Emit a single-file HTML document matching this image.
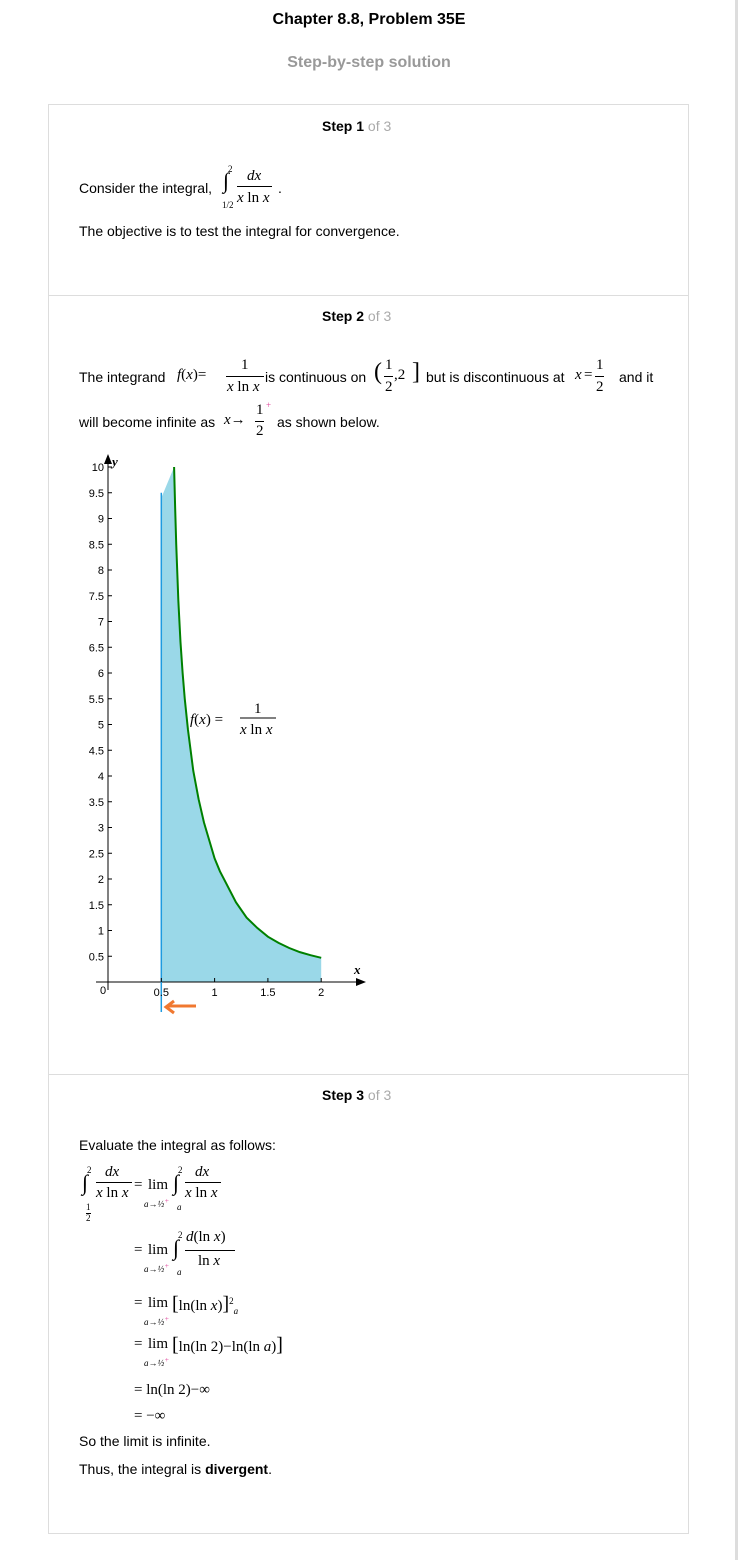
<!DOCTYPE html>
<html><head><meta charset="utf-8">
<style>
body{margin:0;width:738px;height:1560px;background:#fff;position:relative;font-family:"Liberation Sans",sans-serif;font-size:14px;color:#000;overflow:hidden}
.a{position:absolute;white-space:nowrap;line-height:1}
.m{font-family:"Liberation Serif",serif;font-size:15px}
.i{font-style:italic}
.s{font-size:9px;font-family:"Liberation Serif",serif}
.ln{position:absolute;height:1px;background:#000}
.big{font-size:22px;font-family:"Liberation Serif",serif}
</style></head><body>
<div class="a" style="left:0;width:738px;text-align:center;top:12px;font-weight:bold;font-size:16px">Chapter 8.8, Problem 35E</div>
<div class="a" style="left:0;width:738px;text-align:center;top:55px;font-weight:bold;font-size:16px;color:#999">Step-by-step solution</div>
<div style="position:absolute;left:48px;top:104px;width:639px;height:1428px;border:1px solid #ddd"></div>
<div style="position:absolute;left:49px;top:295px;width:639px;height:1px;background:#ddd"></div>
<div style="position:absolute;left:49px;top:1074px;width:639px;height:1px;background:#ddd"></div>
<div style="position:absolute;left:735px;top:0;width:3px;height:1560px;background:#ddd"></div>

<!-- step 1 -->
<div class="a" style="left:322px;top:119px"><b>Step 1</b> <span style="color:#aaa">of 3</span></div>
<div class="a" style="left:79px;top:181px">Consider the integral,</div>
<div class="a big" style="left:223px;top:170px">∫</div>
<div class="a s" style="left:228px;top:165px">2</div>
<div class="a s" style="left:222px;top:201px">1/2</div>
<div class="a m i" style="left:247px;top:169px">dx</div>
<div class="ln" style="left:237px;top:186px;width:35px"></div>
<div class="a m" style="left:237px;top:191px"><i>x</i> ln <i>x</i></div>
<div class="a" style="left:278px;top:181px">.</div>
<div class="a" style="left:79px;top:224px">The objective is to test the integral for convergence.</div>

<!-- step 2 -->
<div class="a" style="left:322px;top:309px"><b>Step 2</b> <span style="color:#aaa">of 3</span></div>
<div class="a" style="left:79px;top:370px">The integrand</div>
<div class="a m" style="left:177px;top:368px"><i>f</i>(<i>x</i>)=</div>
<div class="a m" style="left:241px;top:358px">1</div>
<div class="ln" style="left:226px;top:376px;width:38px"></div>
<div class="a m" style="left:227px;top:380px"><i>x</i> ln <i>x</i></div>
<div class="a" style="left:265px;top:370px">is continuous on</div>
<div class="a m" style="left:374px;top:360px;font-size:24px">(</div>
<div class="a m" style="left:385px;top:358px">1</div>
<div class="ln" style="left:384px;top:376px;width:9px"></div>
<div class="a m" style="left:385px;top:380px">2</div>
<div class="a m" style="left:394px;top:368px">,2</div>
<div class="a m" style="left:412px;top:360px;font-size:24px">]</div>
<div class="a" style="left:426px;top:370px">but is discontinuous at</div>
<div class="a m i" style="left:575px;top:368px">x</div>
<div class="a m" style="left:584px;top:368px">=</div>
<div class="a m" style="left:596px;top:358px">1</div>
<div class="ln" style="left:595px;top:376px;width:9px"></div>
<div class="a m" style="left:596px;top:380px">2</div>
<div class="a" style="left:619px;top:370px">and it</div>
<div class="a" style="left:79px;top:415px">will become infinite as</div>
<div class="a m" style="left:224px;top:413px"><i>x</i>→</div>
<div class="a m" style="left:256px;top:403px">1</div>
<div class="a s" style="left:266px;top:401px;color:#e0409a">+</div>
<div class="ln" style="left:255px;top:421px;width:9px"></div>
<div class="a m" style="left:256px;top:424px">2</div>
<div class="a" style="left:277px;top:415px">as shown below.</div>

<svg id="chart" style="position:absolute;left:0;top:0" width="738" height="1560"></svg>

<!-- step 3 -->
<div class="a" style="left:322px;top:1088px"><b>Step 3</b> <span style="color:#aaa">of 3</span></div>
<div class="a" style="left:79px;top:1138px">Evaluate the integral as follows:</div>
<div class="a big" style="left:82px;top:1172px">∫</div>
<div class="a s" style="left:87px;top:1166px">2</div>
<div class="a s" style="left:86px;top:1203px">1</div><div class="ln" style="left:86px;top:1213px;width:5px"></div><div class="a s" style="left:86px;top:1214px">2</div>
<div class="a m i" style="left:105px;top:1165px">dx</div>
<div class="ln" style="left:96px;top:1182px;width:36px"></div>
<div class="a m" style="left:96px;top:1186px"><i>x</i> ln <i>x</i></div>
<div class="a m" style="left:134px;top:1178px">=</div>

<div class="a m" style="left:148px;top:1178px">lim</div>
<div class="a s i" style="left:144px;top:1197px">a→½<sup style="color:#e0409a">+</sup></div>
<div class="a big" style="left:173px;top:1172px">∫</div>
<div class="a s" style="left:178px;top:1166px">2</div><div class="a s i" style="left:177px;top:1203px">a</div>
<div class="a m i" style="left:195px;top:1165px">dx</div>
<div class="ln" style="left:185px;top:1182px;width:36px"></div>
<div class="a m" style="left:185px;top:1186px"><i>x</i> ln <i>x</i></div>

<div class="a m" style="left:134px;top:1243px">=</div>
<div class="a m" style="left:148px;top:1243px">lim</div>
<div class="a s i" style="left:144px;top:1262px">a→½<sup style="color:#e0409a">+</sup></div>
<div class="a big" style="left:173px;top:1237px">∫</div>
<div class="a s" style="left:178px;top:1231px">2</div><div class="a s i" style="left:177px;top:1268px">a</div>
<div class="a m" style="left:186px;top:1230px"><i>d</i>(ln <i>x</i>)</div>
<div class="ln" style="left:185px;top:1250px;width:50px"></div>
<div class="a m" style="left:198px;top:1254px">ln <i>x</i></div>

<div class="a m" style="left:134px;top:1296px">=</div>
<div class="a m" style="left:148px;top:1296px">lim</div>
<div class="a s i" style="left:144px;top:1315px">a→½<sup style="color:#e0409a">+</sup></div>
<div class="a m" style="left:172px;top:1294px"><span style="font-size:20px">[</span>ln(ln <i>x</i>)<span style="font-size:20px">]</span><sup class="s">2</sup><sub class="s i">a</sub></div>

<div class="a m" style="left:134px;top:1337px">=</div>
<div class="a m" style="left:148px;top:1337px">lim</div>
<div class="a s i" style="left:144px;top:1356px">a→½<sup style="color:#e0409a">+</sup></div>
<div class="a m" style="left:172px;top:1335px"><span style="font-size:20px">[</span>ln(ln 2)−ln(ln <i>a</i>)<span style="font-size:20px">]</span></div>

<div class="a m" style="left:134px;top:1383px">= ln(ln 2)−∞</div>
<div class="a m" style="left:134px;top:1409px">= −∞</div>
<div class="a" style="left:79px;top:1434px">So the limit is infinite.</div>
<div class="a" style="left:79px;top:1462px">Thus, the integral is <b>divergent</b>.</div>

<script>
const xTicks=[0.5,1,1.5,2];
const yTicks=[0.5,1,1.5,2,2.5,3,3.5,4,4.5,5,5.5,6,6.5,7,7.5,8,8.5,9,9.5,10];
const curveX=[0.62,0.63,0.64,0.66,0.68,0.7,0.72,0.75,0.8,0.85,0.9,0.95,1,1.05,1.1,1.2,1.3,1.4,1.5,1.6,1.7,1.8,1.9,2];
const curveY=[10,9.2,8.5,7.4,6.6,6.0,5.5,4.9,4.1,3.55,3.1,2.75,2.4,2.15,1.95,1.55,1.25,1.05,0.88,0.76,0.66,0.58,0.52,0.47];
const fillStart=[0.5,9.4];
const sx=v=>108+v*106.6, sy=v=>982-v*51.5;
const svg=document.getElementById('chart'), NS='http://www.w3.org/2000/svg';
function mk(t,a){const e=document.createElementNS(NS,t);for(const k in a)e.setAttribute(k,a[k]);svg.appendChild(e);return e;}
let d='M'+sx(fillStart[0])+','+sy(0)+' L'+sx(fillStart[0])+','+sy(fillStart[1]);
curveX.forEach((x,i)=>d+=' L'+sx(x)+','+sy(curveY[i]));
d+=' L'+sx(2)+','+sy(0)+'Z';
const area=mk('path',{d:d,fill:'#9ad8e8'});


const cl=mk('polyline',{points:curveX.map((x,i)=>sx(x)+','+sy(curveY[i])).join(' '),fill:'none',stroke:'#008000','stroke-width':2});


mk('line',{x1:96,y1:982,x2:360,y2:982,stroke:'#000'});
mk('path',{d:'M356,978 L366,982 L356,986Z',fill:'#000'});
mk('line',{x1:108,y1:460,x2:108,y2:990,stroke:'#000'});
mk('path',{d:'M104,464 L108,454 L112,464Z',fill:'#000'});
const va=mk('line',{x1:sx(0.5),y1:sy(9.5),x2:sx(0.5),y2:1012,stroke:'#1e9be0','stroke-width':1.5});


mk('path',{d:'M196,1006 L168,1006 M174,1001 L166,1007 L174,1013',stroke:'#f07830','stroke-width':3,fill:'none'});
yTicks.forEach(v=>{mk('line',{x1:108,y1:sy(v),x2:112,y2:sy(v),stroke:'#000'});
 const t=mk('text',{x:104,y:sy(v)+4,'text-anchor':'end','font-size':11,'font-family':'Liberation Sans'});t.textContent=v;
 
 });
xTicks.forEach(v=>{mk('line',{x1:sx(v),y1:978,x2:sx(v),y2:982,stroke:'#000'});
 const t=mk('text',{x:sx(v),y:996,'text-anchor':'middle','font-size':11,'font-family':'Liberation Sans'});t.textContent=v;
 
 });
let t=mk('text',{x:100,y:994,'font-size':11,'font-family':'Liberation Sans'});t.textContent='0';
t=mk('text',{x:112,y:466,'font-size':13,'font-style':'italic','font-weight':'bold','font-family':'Liberation Serif'});t.textContent='y';
t=mk('text',{x:354,y:974,'font-size':13,'font-style':'italic','font-weight':'bold','font-family':'Liberation Serif'});t.textContent='x';
t=mk('text',{x:190,y:724,'font-size':15,'font-family':'Liberation Serif'});t.innerHTML='<tspan font-style="italic">f</tspan>(<tspan font-style="italic">x</tspan>) =';


mk('line',{x1:240,y1:718,x2:276,y2:718,stroke:'#000'});
t=mk('text',{x:254,y:713,'font-size':15,'font-family':'Liberation Serif'});t.textContent='1';
t=mk('text',{x:240,y:734,'font-size':15,'font-family':'Liberation Serif'});t.innerHTML='<tspan font-style="italic">x</tspan> ln <tspan font-style="italic">x</tspan>';
</script>
</body></html>
